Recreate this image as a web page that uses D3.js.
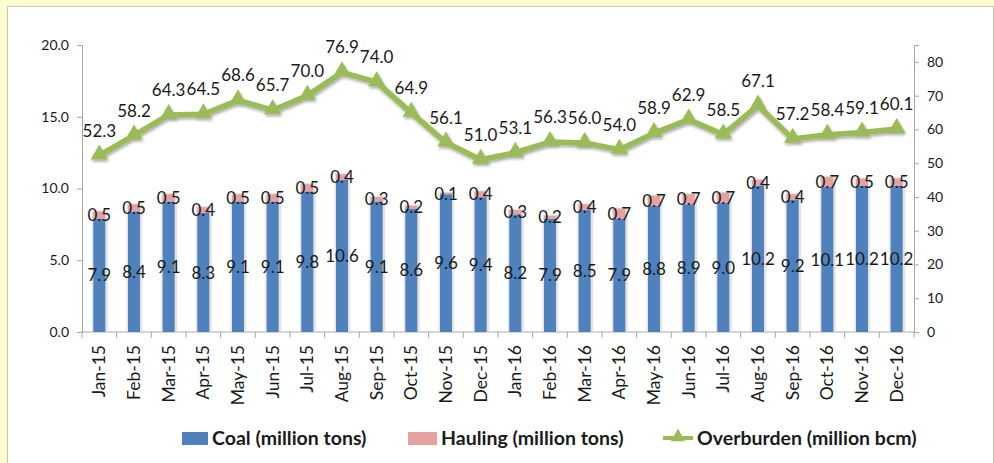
<!DOCTYPE html>
<html>
<head>
<meta charset="utf-8">
<script src="https://cdn.jsdelivr.net/npm/d3@7"></script>
<style>
  body { margin: 0; background: #fdfbd0; }
  #chart { position: absolute; left: 0; top: 0; }
  text { font-family: Lato, "Open Sans", sans-serif; fill: #1a1a1a; }
</style>
</head>
<body>
<div id="chart"></div>
<script>
// months on the category axis
var months = ["Jan-15", "Feb-15", "Mar-15", "Apr-15", "May-15", "Jun-15", "Jul-15", "Aug-15",
    "Sep-15", "Oct-15", "Nov-15", "Dec-15", "Jan-16", "Feb-16", "Mar-16", "Apr-16", "May-16",
    "Jun-16", "Jul-16", "Aug-16", "Sep-16", "Oct-16", "Nov-16", "Dec-16"];
var coal = [7.9, 8.4, 9.1, 8.3, 9.1, 9.1, 9.8, 10.6, 9.1, 8.6, 9.6, 9.4,
    8.2, 7.9, 8.5, 7.9, 8.8, 8.9, 9.0, 10.2, 9.2, 10.1, 10.2, 10.2];
var hauling = [0.5, 0.5, 0.5, 0.4, 0.5, 0.5, 0.5, 0.4, 0.3, 0.2, 0.1, 0.4,
    0.3, 0.2, 0.4, 0.7, 0.7, 0.7, 0.7, 0.4, 0.4, 0.7, 0.5, 0.5];
var overburden = [52.3, 58.2, 64.3, 64.5, 68.6, 65.7, 70.0, 76.9, 74.0, 64.9, 56.1, 51.0,
    53.1, 56.3, 56.0, 54.0, 58.9, 62.9, 58.5, 67.1, 57.2, 58.4, 59.1, 60.1];
var leftTicks = [0, 5, 10, 15, 20];
var rightTicks = [0, 10, 20, 30, 40, 50, 60, 70, 80];
var legendLabels = ["Coal (million tons)", "Hauling (million tons)", "Overburden (million bcm)"];

var W = 994, H = 463;
var blue = "#4f81bd", pink = "#e6a1a1", green = "#9bbb59", axisGray = "#a6a6a6";

var svg = d3.select("#chart").append("svg").attr("width", W).attr("height", H);

/* shadow filter, the excel chart has soft shadows on the line */
var defs = svg.append("defs");
defs.append("filter").attr("id", "shadow").attr("x", "-10%").attr("y", "-20%")
    .attr("width", "120%").attr("height", "160%")
    .append("feDropShadow").attr("dx", 1).attr("dy", 2).attr("stdDeviation", 1.5)
    .attr("flood-color", "#000").attr("flood-opacity", 0.35);

// white panel over the yellow page
svg.append("rect").attr("x", 7.5).attr("y", 6.5).attr("width", W - 8).attr("height", H)
    .attr("fill", "#fff").attr("stroke", "#c8c8b0");

var plotLeft = 82, plotRight = 914, plotTop = 45, plotBottom = 332;

var x = d3.scaleBand().domain(months).range([plotLeft, plotRight]);
var yL = d3.scaleLinear().domain([0, 20]).range([plotBottom, plotTop]);
var yR = d3.scaleLinear().domain([0, 85]).range([plotBottom, plotTop]);

/* axes */
var gL = svg.append("g").attr("transform", "translate(" + plotLeft + ",0)")
    .call(d3.axisLeft(yL).tickValues(leftTicks).tickFormat(d3.format(".1f")).tickSizeOuter(0).tickSize(5).tickPadding(8));
var gR = svg.append("g").attr("transform", "translate(" + plotRight + ",0)")
    .call(d3.axisRight(yR).tickValues(rightTicks).tickSizeOuter(0).tickSize(5).tickPadding(8));
[gL, gR].forEach(function (g) {
    g.select(".domain").attr("stroke", axisGray);
    g.selectAll(".tick line").attr("stroke", axisGray);
    g.selectAll(".tick text").style("font-size", "14px").attr("fill", "#333")
        .style("font-family", "Lato, sans-serif");
});

var gX = svg.append("g").attr("transform", "translate(0," + plotBottom + ")");
gX.append("line").attr("x1", plotLeft).attr("x2", plotRight).attr("stroke", axisGray);
var edges = months.map(function (m) { return x(m); }).concat([plotRight]);
gX.selectAll("line.tk").data(edges).enter().append("line").attr("class", "tk")
    .attr("x1", function (d) { return d; }).attr("x2", function (d) { return d; })
    .attr("y1", 0).attr("y2", 6).attr("stroke", axisGray);
gX.selectAll("text").data(months).enter().append("text")
    .attr("transform", function (d) {
        return "translate(" + (x(d) + x.bandwidth() / 2 + 6) + ",13) rotate(-90)";
    })
    .attr("text-anchor", "end").style("font-size", "17.5px").text(function (d) { return d; });

/* bars */
var bw = 12;
var bars = svg.append("g");
months.forEach(function (m, i) {
    var cx = x(m) + x.bandwidth() / 2;
    var yTop = yL(coal[i] + hauling[i]);
    // light shadow round the stack
    bars.append("rect").attr("x", cx - bw / 2 - 1.5).attr("y", yTop - 1)
        .attr("width", bw + 4).attr("height", plotBottom - yTop + 1)
        .attr("fill", "#dcdcdc").attr("opacity", 0.8);
    bars.append("rect").attr("x", cx - bw / 2).attr("y", yL(coal[i]))
        .attr("width", bw).attr("height", plotBottom - yL(coal[i])).attr("fill", blue);
    bars.append("rect").attr("x", cx - bw / 2).attr("y", yTop)
        .attr("width", bw).attr("height", yL(coal[i]) - yTop).attr("fill", pink);
});

// data labels on the bars
var labels = svg.append("g").style("font-size", "17px").attr("text-anchor", "middle");
months.forEach(function (m, i) {
    var cx = x(m) + x.bandwidth() / 2;
    labels.append("text").attr("x", cx).attr("y", yL(coal[i] / 2)).attr("dy", "0.36em")
        .text(coal[i].toFixed(1));
    labels.append("text").attr("x", cx).attr("y", yL(coal[i] + hauling[i] / 2)).attr("dy", "0.36em")
        .text(hauling[i].toFixed(1));
});

/* overburden line */
var line = d3.line()
    .x(function (d, i) { return x(months[i]) + x.bandwidth() / 2; })
    .y(function (d) { return yR(d); });
var lg = svg.append("g").attr("filter", "url(#shadow)");
lg.append("path").datum(overburden).attr("d", line).attr("fill", "none")
    .attr("stroke", green).attr("stroke-width", 5.5).attr("stroke-linejoin", "round");
var tri = d3.symbol().type(d3.symbolTriangle).size(130);
lg.selectAll("path.mk").data(overburden).enter().append("path").attr("class", "mk")
    .attr("d", tri).attr("fill", green)
    .attr("transform", function (d, i) {
        return "translate(" + (x(months[i]) + x.bandwidth() / 2) + "," + (yR(d) - 1) + ")";
    });
labels.selectAll("text.ob").data(overburden).enter().append("text").attr("class", "ob")
    .attr("x", function (d, i) { return x(months[i]) + x.bandwidth() / 2; })
    .attr("y", function (d) { return yR(d) - 25; }).attr("dy", "0.36em")
    .text(function (d) { return d.toFixed(1); });

/* legend */
var leg = svg.append("g").style("font-size", "19.5px").style("font-weight", "bold");
leg.append("rect").attr("x", 182).attr("y", 432).attr("width", 26).attr("height", 13).attr("fill", blue);
leg.append("text").attr("x", 212).attr("y", 445).text(legendLabels[0]);
leg.append("rect").attr("x", 408).attr("y", 432).attr("width", 29).attr("height", 13).attr("fill", pink);
leg.append("text").attr("x", 441).attr("y", 445).text(legendLabels[1]);
leg.append("line").attr("x1", 663).attr("x2", 693).attr("y1", 438).attr("y2", 438)
    .attr("stroke", green).attr("stroke-width", 4);
leg.append("path").attr("d", d3.symbol().type(d3.symbolTriangle).size(90))
    .attr("fill", green).attr("transform", "translate(678,437)");
leg.append("text").attr("x", 697).attr("y", 445).text(legendLabels[2]);
</script>
</body>
</html>
